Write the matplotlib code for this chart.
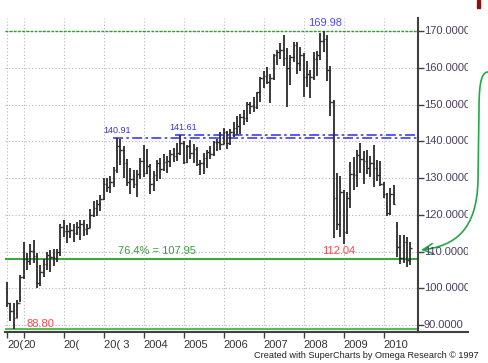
import numpy as np
import matplotlib
matplotlib.use('Agg')
import matplotlib.pyplot as plt
from matplotlib.path import Path
from matplotlib.patches import FancyArrowPatch, Rectangle
from matplotlib.lines import Line2D
from matplotlib.transforms import Bbox, TransformedBbox, offset_copy

plt.rcParams['font.family'] = ['Liberation Sans', 'DejaVu Sans']

W, H = 489, 363

# monthly bars, Aug 2000 .. Sep 2010 (month 0 = Jan 2001)
first_month = -5

opens = [
    99.0, 96.0, 93.8, 91.9, 96.0,
    103.0, 108.0, 107.3, 110.2, 108.9, 101.4, 104.5, 106.6, 109.0, 108.6, 108.2, 110.0,
    116.8, 115.5, 115.5, 115.9, 115.0, 116.6, 117.6, 116.2, 116.5, 120.0, 121.8, 123.0,
    124.2, 128.5, 127.5, 128.9, 132.3, 138.8, 137.5, 134.0, 128.9, 129.8, 128.5, 131.1,
    134.6, 131.5, 133.3, 128.5, 130.8, 134.0, 132.5, 134.3, 134.6, 136.5, 136.0, 136.8,
    139.5, 134.3, 138.6, 136.7, 138.0, 133.8, 134.0, 135.5, 137.1, 136.5, 139.7, 139.7,
    139.2, 142.6, 139.4, 142.6, 143.5, 144.2, 146.6, 146.3, 150.1, 149.7, 149.2, 153.3,
    157.1, 157.8, 156.1, 157.3, 163.5, 164.2, 164.9, 162.6, 160.0, 163.0, 166.3, 161.2,
    163.5, 157.5, 158.3, 157.5, 162.5, 163.5, 167.3, 167.8, 159.5, 150.8, 124.5, 117.6,
    126.3, 115.4, 124.5, 131.0, 130.7, 136.2, 135.2, 134.6, 132.7, 134.2, 132.7, 130.7,
    128.5, 125.6, 120.6, 125.6, 117.0, 111.3, 108.3, 112.6, 107.8,
]
highs = [
    101.6, 96.0, 95.9, 96.7, 103.5,
    112.5, 109.5, 112.0, 113.0, 109.5, 106.4, 108.0, 109.8, 110.5, 110.8, 110.8, 117.5,
    118.5, 117.2, 117.8, 117.6, 118.0, 118.7, 118.6, 117.5, 121.5, 123.8, 124.0, 125.3,
    130.0, 130.0, 130.5, 133.0, 140.91, 140.5, 138.6, 135.2, 132.6, 132.3, 132.1, 135.5,
    139.0, 138.0, 133.7, 132.0, 135.0, 135.5, 136.5, 136.0, 137.7, 138.3, 139.5, 141.61,
    140.2, 139.0, 140.3, 139.3, 138.5, 134.8, 136.7, 137.5, 138.8, 140.0, 140.6, 142.5,
    143.5, 142.9, 143.3, 145.3, 147.0, 147.5, 148.5, 150.6, 150.7, 152.0, 153.4, 157.5,
    159.0, 160.3, 158.2, 163.7, 164.8, 166.7, 168.9, 165.5, 163.5, 166.9, 166.9, 165.6,
    164.0, 161.8, 159.5, 164.3, 164.5, 169.5, 169.98, 168.9, 160.5, 151.2, 131.3, 130.5,
    126.7, 126.1, 134.3, 135.7, 137.6, 139.5, 137.3, 137.6, 136.0, 139.0, 134.9, 134.7,
    129.0, 126.0, 127.4, 128.0, 118.0, 114.4, 114.6, 113.9, 112.6,
]
lows = [
    94.8, 91.0, 88.8, 91.8, 96.2,
    102.5, 105.0, 106.3, 107.0, 100.2, 100.5, 103.0, 105.0, 104.5, 106.0, 107.1, 108.8,
    114.0, 112.3, 113.8, 112.6, 114.5, 113.0, 114.2, 114.6, 116.3, 119.5, 119.7, 121.0,
    124.0, 126.2, 125.8, 127.5, 131.3, 133.5, 130.0, 127.9, 125.6, 127.2, 124.8, 129.8,
    130.2, 131.0, 125.6, 126.5, 129.2, 129.8, 131.8, 131.4, 133.0, 134.3, 134.5, 136.2,
    133.7, 134.0, 135.3, 134.1, 133.3, 130.7, 131.2, 132.6, 135.3, 136.0, 137.3, 137.6,
    139.2, 137.8, 139.0, 141.1, 141.6, 142.0, 144.4, 145.2, 147.4, 148.0, 148.9, 150.6,
    154.4, 155.5, 150.5, 156.6, 160.7, 162.3, 160.5, 149.3, 155.3, 161.5, 158.3, 159.0,
    152.0, 154.8, 151.7, 156.8, 157.7, 162.0, 164.3, 156.5, 147.0, 113.6, 115.8, 113.9,
    112.04, 114.8, 121.8, 126.8, 127.5, 131.3, 128.3, 131.0, 130.3, 127.5, 129.3, 127.9,
    124.5, 119.6, 120.0, 122.6, 108.4, 106.5, 107.0, 105.7, 106.3,
]
closes = [
    96.0, 93.8, 91.9, 96.0, 103.0,
    108.0, 107.3, 110.2, 108.9, 101.4, 104.5, 106.6, 109.0, 108.6, 108.2, 110.0, 116.8,
    115.5, 115.5, 115.9, 115.0, 116.6, 117.6, 116.2, 116.5, 120.0, 121.8, 123.0, 124.2,
    128.5, 127.5, 128.9, 132.3, 138.8, 137.5, 134.0, 128.9, 129.8, 128.5, 131.1, 134.6,
    131.5, 133.3, 128.5, 130.8, 134.0, 132.5, 134.3, 134.6, 136.5, 136.0, 136.8, 139.5,
    134.3, 138.6, 136.7, 138.0, 133.8, 134.0, 135.5, 137.1, 136.5, 139.7, 139.7, 139.2,
    142.6, 139.4, 142.6, 143.5, 144.2, 146.6, 146.3, 150.1, 149.7, 149.2, 153.3, 157.1,
    157.8, 156.1, 157.3, 163.5, 164.2, 164.9, 162.6, 160.0, 163.0, 166.3, 161.2, 163.5,
    157.5, 158.3, 157.5, 162.5, 163.5, 167.3, 167.8, 159.5, 150.8, 124.5, 117.6, 126.3,
    115.4, 124.5, 131.0, 130.7, 136.2, 135.2, 134.6, 132.7, 134.2, 132.7, 130.7, 128.5,
    125.6, 120.6, 125.6, 122.9, 111.3, 108.3, 112.6, 107.8, 111.0,
]

year_ticks = [-5, 0, 12, 24, 36, 48, 60, 72, 84, 96, 108]
year_labels = ['20(', '20', '20(', '20( 3', '2004', '2005', '2006', '2007',
               '2008', '2009', '2010']
price_ticks = [90, 100, 110, 120, 130, 140, 150, 160, 170]

high_mark = 169.98
low_mark = 88.80
crash_low = 112.04
peak_2003 = 140.91
peak_2004 = 141.61
fib_level = 107.95


fig = plt.figure(figsize=(W / 100, H / 100), dpi=100)
ax = fig.add_axes([5 / W, 1 - 332 / H, 413 / W, 314 / H])
ax.set_xlim(-5.61, 118.3)
ax.set_ylim(88.1, 173.54)

# dotted grid
ax.set_yticks(price_ticks)
ax.set_xticks(year_ticks)
ax.grid(True, color='#b4b4b4', ls=(0, (1, 2)), lw=0.8)
ax.set_axisbelow(True)

# reference lines
ax.axhline(170, color='#2e9e2e', lw=1.0, ls=(0, (2, 1)), zorder=2)
ax.axhline(fib_level, color='#3aa83a', lw=1.5, zorder=2)
ax.axhline(low_mark, color='#5cb85c', lw=1.6, zorder=2)
ax.plot([26.8, 118.3], [peak_2003] * 2, color='#3c3cff', lw=1.2,
        ls=(0, (6, 2, 1.5, 2)), zorder=2)
ax.plot([45.4, 118.3], [peak_2004] * 2, color='#3c3cff', lw=1.2,
        ls=(0, (6, 2, 1.5, 2)), zorder=2)

# the OHLC bars
m = np.arange(len(highs)) + first_month
ax.vlines(m, lows, highs, color='#2b2b2b', lw=1.3, zorder=3)
ax.hlines(opens, m - 0.45, m, color='#2b2b2b', lw=1.0, zorder=3)
ax.hlines(closes, m, m + 0.45, color='#2b2b2b', lw=1.0, zorder=3)

# labels on the chart
ax.text(85.4, high_mark + 2.2, f'{high_mark:.2f}', color='#4a4aff', fontsize=8,
        ha='left', va='center')
ax.text(23.8, peak_2003 + 2.15, f'{peak_2003:.2f}', color='#3434e0', fontsize=6.5,
        ha='left', va='center')
ax.text(43.6, peak_2004 + 2.0, f'{peak_2004:.2f}', color='#3434e0', fontsize=6.5,
        ha='left', va='center')
ax.text(28.3, fib_level + 2.15, f'76.4% = {fib_level:.2f}', color='#3a9e3a',
        fontsize=8, ha='left', va='center')
ax.text(0.7, low_mark + 1.5, f'{low_mark:.2f}', color='#ff4848', fontsize=8,
        ha='left', va='center')
ax.text(89.5, fib_level + 2.15, f'{crash_low:.2f}', color='#ff4848', fontsize=8,
        ha='left', va='center')

# axes look
for s in ['top', 'left']:
    ax.spines[s].set_visible(False)
for s in ['right', 'bottom']:
    ax.spines[s].set_color('#404040')
    ax.spines[s].set_linewidth(1.5)
ax.yaxis.tick_right()
ax.tick_params(axis='y', length=4, width=1, color='#404040', labelright=False)
ax.tick_params(axis='x', length=4, width=1, color='#404040', pad=2,
               labelsize=8, labelcolor='#333333')
ax.set_xticklabels(year_labels)
for lab in ax.get_xticklabels():
    lab.set_horizontalalignment('left')

fig.add_artist(Line2D([418 / W, 468 / W], [1 - 332 / H] * 2, color='#404040', lw=1.5))

# right price labels, cut off at the edge like the original
clip = TransformedBbox(Bbox.from_extents(0, 0, 468 / W, 1), fig.transFigure)
tr = offset_copy(ax.get_yaxis_transform(), fig=fig, x=6, y=0, units='dots')
for v in price_ticks:
    t = fig.text(1, v, f'{v:.4f}', transform=tr, fontsize=8, color='#4b3f5f',
                 ha='left', va='center')
    t.set_clip_box(clip)
    t.set_clip_on(True)

fig.text(479 / W, 1 - 356 / H, 'Created with SuperCharts by Omega Research \u00a9 1997',
         ha='right', va='center', fontsize=6.6, color='#222222')

fig.add_artist(Rectangle((477 / W, 1 - 8 / H), 3 / W, 8 / H,
                         transform=fig.transFigure, color='#8b1010'))


# green curved arrow to the 76.4% level
def fp(x, y):
    return (x / W, 1 - y / H)


verts = [fp(488, 72), fp(480, 72), fp(479, 90), fp(479, 110), fp(478, 180),
         fp(477, 230), fp(455, 246), fp(421, 250)]
codes = [Path.MOVETO, Path.CURVE4, Path.CURVE4, Path.CURVE4, Path.LINETO,
         Path.CURVE4, Path.CURVE4, Path.CURVE4]
arrow = FancyArrowPatch(path=Path(verts, codes), arrowstyle='->,head_length=0.6,head_width=0.3',
                        mutation_scale=12, color='#22aa44', lw=1.2,
                        transform=fig.transFigure)
fig.add_artist(arrow)

fig.savefig('out.png', dpi=100)
